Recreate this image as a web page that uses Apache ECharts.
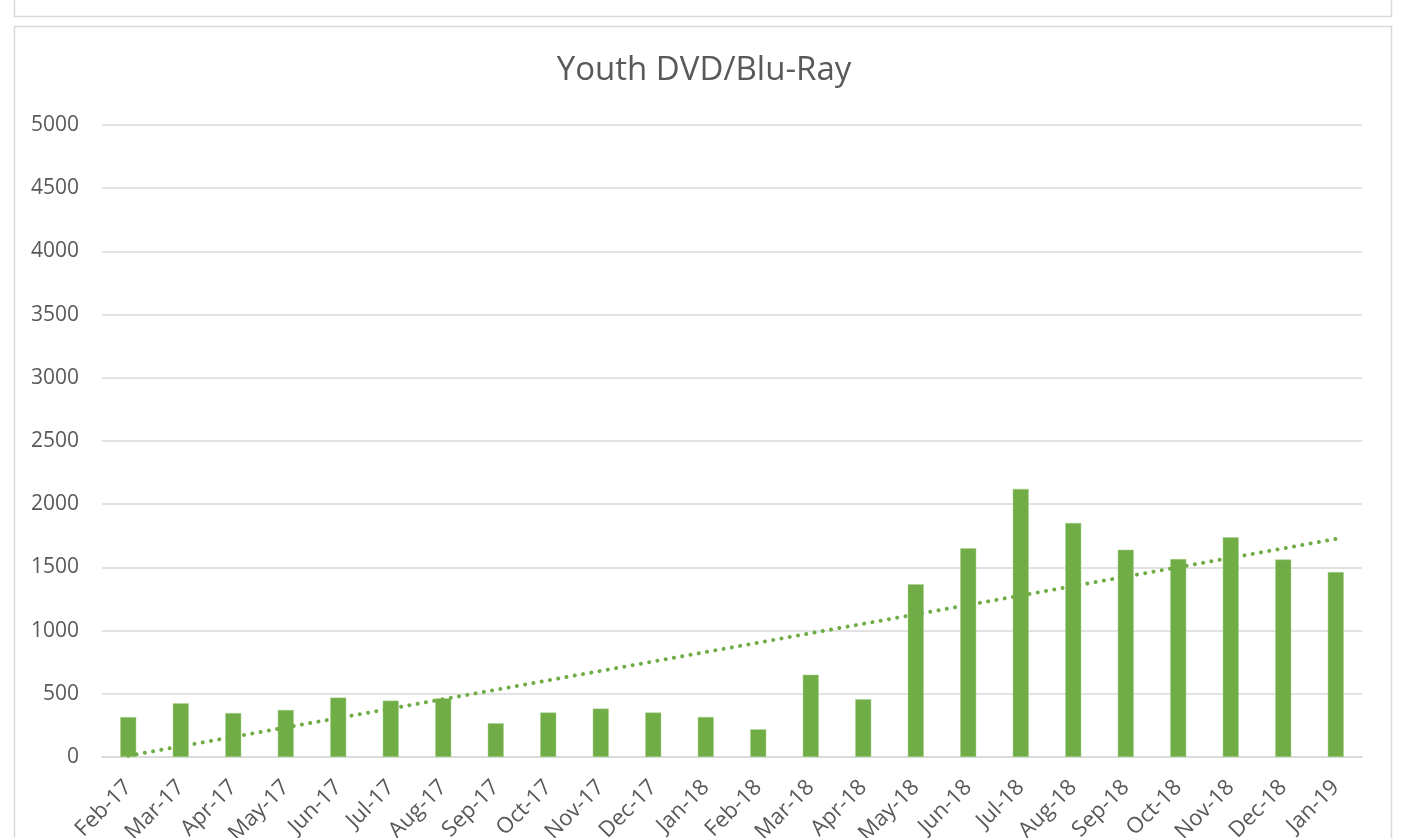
<!DOCTYPE html>
<html>
<head>
<meta charset="utf-8">
<script src="https://cdn.jsdelivr.net/npm/echarts@6/dist/echarts.min.js"></script>
<style>
html,body{margin:0;padding:0;background:#fff;}
#c{width:1411px;height:838px;}
</style>
</head>
<body>
<div id="c"></div>
<script>
const categories = ["Feb-17","Mar-17","Apr-17","May-17","Jun-17","Jul-17","Aug-17","Sep-17","Oct-17","Nov-17","Dec-17","Jan-18","Feb-18","Mar-18","Apr-18","May-18","Jun-18","Jul-18","Aug-18","Sep-18","Oct-18","Nov-18","Dec-18","Jan-19"];
const values = [316,425,348,372,470,446,464,267,352,383,352,317,219,651,457,1367,1651,2121,1852,1640,1566,1738,1563,1463];
// trendline endpoints (first and last category)
const trendStart = 10;
const trendEnd = 1725;
const trend = categories.map((c, i) => i === 0 ? trendStart : (i === categories.length - 1 ? trendEnd : null));
const yTicks = [0,500,1000,1500,2000,2500,3000,3500,4000,4500,5000];

const chart = echarts.init(document.getElementById('c'), null, {renderer: 'canvas'});
const FONT = '"Open Sans", "Noto Sans", sans-serif';
chart.setOption({
  animation: false,
  textStyle: {fontFamily: FONT},
  graphic: [
    {type: 'rect', shape: {x: 14.5, y: -10, width: 1377, height: 26.5}, style: {fill: 'none', stroke: '#d9d9d9', lineWidth: 1.5}, silent: true},
    {type: 'rect', shape: {x: 14.5, y: 26.5, width: 1377, height: 830}, style: {fill: 'none', stroke: '#d9d9d9', lineWidth: 1.5}, silent: true}
  ],
  title: {
    text: 'Youth DVD/Blu-Ray',
    left: 699, top: 49, textAlign: 'center',
    textStyle: {fontFamily: FONT, fontSize: 33, fontWeight: 'normal', color: '#595959'}
  },
  grid: {left: 102, right: 49, top: 125, bottom: 81, containLabel: false, outerBoundsMode: 'none'},
  xAxis: {
    type: 'category',
    data: categories,
    boundaryGap: true,
    axisLine: {show: true, lineStyle: {color: '#d9d9d9', width: 1.5}},
    axisTick: {show: false},
    axisLabel: {rotate: 45, interval: 0, color: '#595959', fontSize: 22, fontFamily: FONT, margin: 27, hideOverlap: false}
  },
  yAxis: {
    type: 'value',
    min: yTicks[0], max: yTicks[yTicks.length - 1], interval: 500,
    axisLine: {show: false},
    axisTick: {show: false},
    splitLine: {lineStyle: {color: '#d9d9d9', width: 1.5}},
    axisLabel: {color: '#595959', fontSize: 21, fontFamily: FONT, margin: 23, formatter: v => String(v)}
  },
  series: [
    {
      type: 'bar',
      data: values,
      barWidth: 16,
      itemStyle: {color: '#70ad47', borderColor: '#a9d18e', borderWidth: 0.5}
    },
    {
      type: 'line',
      data: trend,
      connectNulls: true,
      symbol: 'none',
      lineStyle: {color: '#70ad47', width: 4, type: [0.1, 8.3], cap: 'round'},
      z: 5
    }
  ]
});
</script>
</body>
</html>
